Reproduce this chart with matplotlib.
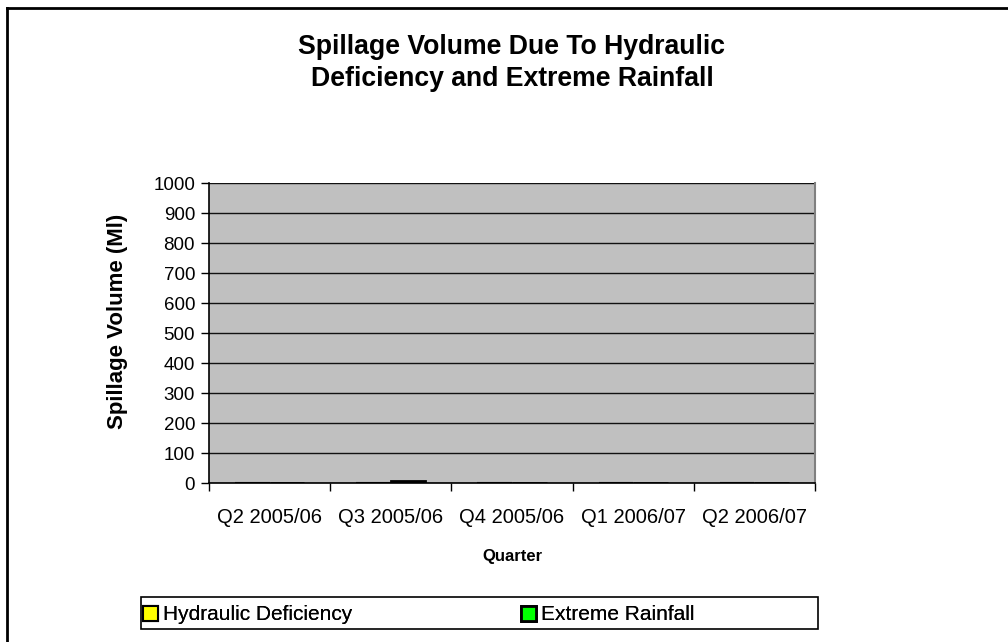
import matplotlib
matplotlib.use("Agg")
import matplotlib.pyplot as plt
import numpy as np
from matplotlib.lines import Line2D
from matplotlib.patches import Rectangle

plt.rcParams['font.family'] = ['Liberation Sans', 'DejaVu Sans']

quarters = ["Q2 2005/06", "Q3 2005/06", "Q4 2005/06", "Q1 2006/07", "Q2 2006/07"]
hydraulic = [0, 0, 0, 0, 0]
rainfall = [0, 8, 0, 0, 0]
y_ticks = list(range(0, 1001, 100))

fig = plt.figure(figsize=(10.08, 6.42), dpi=100)
ax = fig.add_axes([209 / 1008, 1 - 483 / 642, 606 / 1008, 300 / 642])
ax.set_facecolor('#c0c0c0')

x = np.arange(len(quarters))
w = 1 / 3.5
b1 = ax.bar(x - w / 2, hydraulic, w, color='#ffff00', edgecolor='black', linewidth=1.5,
            label='Hydraulic Deficiency', zorder=3)
b2 = ax.bar(x + w / 2, rainfall, w, color='#00ff00', edgecolor='black', linewidth=2,
            label='Extreme Rainfall', zorder=3)

ax.set_xlim(-0.5, len(quarters) - 0.5)
ax.set_ylim(0, 1000)
ax.set_yticks(y_ticks)
ax.set_yticklabels([str(v) for v in y_ticks], fontsize=13.5)
ax.set_xticks(x)
ax.set_xticklabels(quarters, fontsize=14.5)
ax.tick_params(axis='x', length=0, pad=18)
ax.set_xticks(np.arange(-0.5, len(quarters)), minor=True)
ax.tick_params(axis='x', which='minor', length=6, width=1, color='black')
ax.tick_params(axis='y', length=6, width=1, color='black', pad=4)
ax.grid(axis='y', color='#111111', linewidth=1, zorder=1)
ax.spines['top'].set_visible(False)
ax.spines['right'].set_color('#808080')
ax.spines['right'].set_linewidth(1.5)
ax.spines['left'].set_color('black')
ax.spines['left'].set_linewidth(1.2)
ax.spines['bottom'].set_color('black')
ax.spines['bottom'].set_linewidth(1.2)

ax.set_xlabel('Quarter', fontsize=12, fontweight='bold', labelpad=16)
ax.set_ylabel('Spillage Volume (Ml)', fontsize=16, fontweight='bold')
ax.yaxis.set_label_coords(-0.134, 0.54)

fig.text(512 / 1008, 1 - 63 / 642,
         'Spillage Volume Due To Hydraulic\nDeficiency and Extreme Rainfall',
         ha='center', va='center', fontsize=19.2, fontweight='bold', linespacing=1.35)

# outer chart border
fig.add_artist(Line2D([7 / 1008, 7 / 1008], [0, 1 - 8 / 642], transform=fig.transFigure,
                      color='black', linewidth=2))
fig.add_artist(Line2D([7 / 1008, 1], [1 - 8 / 642, 1 - 8 / 642], transform=fig.transFigure,
                      color='black', linewidth=2))

# legend box with two entries spread across it
fig.add_artist(Rectangle((141 / 1008, 1 - 629 / 642), 677 / 1008, 32 / 642,
                         transform=fig.transFigure, facecolor='white',
                         edgecolor='black', linewidth=1.2))
for handle, x0 in [(b1, 139), (b2, 517)]:
    leg = fig.legend(handles=[handle], loc='center left',
                     bbox_to_anchor=(x0 / 1008, 1 - 615 / 642),
                     fontsize=15, frameon=False, handlelength=0.7,
                     handleheight=0.7, handletextpad=0.25, borderaxespad=0,
                     borderpad=0.2)
    fig.add_artist(leg)

fig.savefig('out.png', dpi=100)
